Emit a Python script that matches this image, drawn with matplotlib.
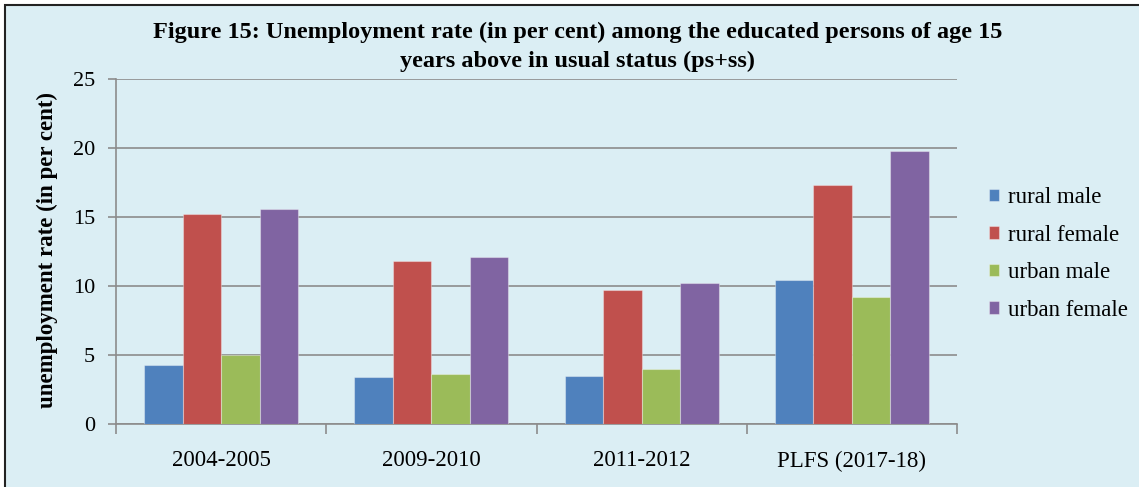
import matplotlib.pyplot as plt
import numpy as np
from matplotlib.patches import Rectangle

periods = ["2004-2005", "2009-2010", "2011-2012", "PLFS (2017-18)"]
series = ["rural male", "rural female", "urban male", "urban female"]
rural_male = [4.3, 3.4, 3.5, 10.4]
rural_female = [15.2, 11.8, 9.7, 17.3]
urban_male = [5.0, 3.6, 4.0, 9.2]
urban_female = [15.6, 12.1, 10.2, 19.8]
colors = ["#4F81BD", "#C0504D", "#9BBB59", "#8064A2"]

plt.rcParams['font.family'] = ['Liberation Serif', 'DejaVu Serif']
bg = "#DBEEF4"
grey = "#8C8C8C"

fig = plt.figure(figsize=(11.39, 4.87), dpi=100)
fig.patch.set_facecolor("white")
fig.patches.append(Rectangle((5 / 1139, -0.05), 1.2, 1.05 - 5 / 487,
                             transform=fig.transFigure, facecolor=bg,
                             edgecolor="#222222", linewidth=1.5, zorder=-10))

ax = fig.add_axes([116 / 1139, 1 - 424 / 487, (957 - 116) / 1139, (424 - 79) / 487])
ax.set_facecolor(bg)

x = np.arange(len(periods))
w = 0.183
for i, (vals, name) in enumerate(zip([rural_male, rural_female, urban_male, urban_female], series)):
    ax.bar(x + (i - 1.5) * w, vals, width=w, color=colors[i], label=name,
           edgecolor=(1, 1, 1, 0.35), linewidth=0.8, zorder=3)

ax.set_xlim(-0.5, len(periods) - 0.5)
ax.set_ylim(0, 25)
ax.set_yticks(np.arange(0, 26, 5))
ax.yaxis.grid(True, color=grey, linewidth=1.2, zorder=0)
ax.set_axisbelow(True)

# ticks at the category boundaries, labels in the middle
ax.set_xticks(np.arange(-0.5, len(periods), 1.0))
ax.set_xticklabels([])
ax.set_xticks(x, minor=True)
ax.set_xticklabels(periods, minor=True, fontsize=16.5)
ax.tick_params(axis="x", which="major", length=7, color=grey, width=1.2)
ax.tick_params(axis="x", which="minor", length=0, pad=19)
ax.tick_params(axis="y", length=6, color=grey, width=1.2, labelsize=16, pad=9)

for s in ["top", "right"]:
    ax.spines[s].set_visible(False)
for s in ["left", "bottom"]:
    ax.spines[s].set_color(grey)
    ax.spines[s].set_linewidth(1.2)

ax.set_ylabel("unemployment rate (in per cent)", fontsize=16.5, fontweight="bold")
ax.yaxis.label.set_verticalalignment("center")
ax.yaxis.set_label_coords(-0.082, 0.504)

fig.text(578 / 1139, 1 - 32 / 487, "Figure 15: Unemployment rate (in per cent) among the educated persons of age 15",
         ha="center", va="center", fontsize=17.5, fontweight="bold")
fig.text(578 / 1139, 1 - 61 / 487, "years above in usual status (ps+ss)",
         ha="center", va="center", fontsize=17.5, fontweight="bold")

ax.legend(loc="center left", bbox_to_anchor=(989 / 1139, 1 - 254 / 487),
          bbox_transform=fig.transFigure, frameon=False, fontsize=16.5,
          handlelength=0.45, handleheight=0.45, handletextpad=0.4,
          labelspacing=0.72, borderaxespad=0, borderpad=0)

fig.savefig("out.png", dpi=100, facecolor=fig.get_facecolor())
